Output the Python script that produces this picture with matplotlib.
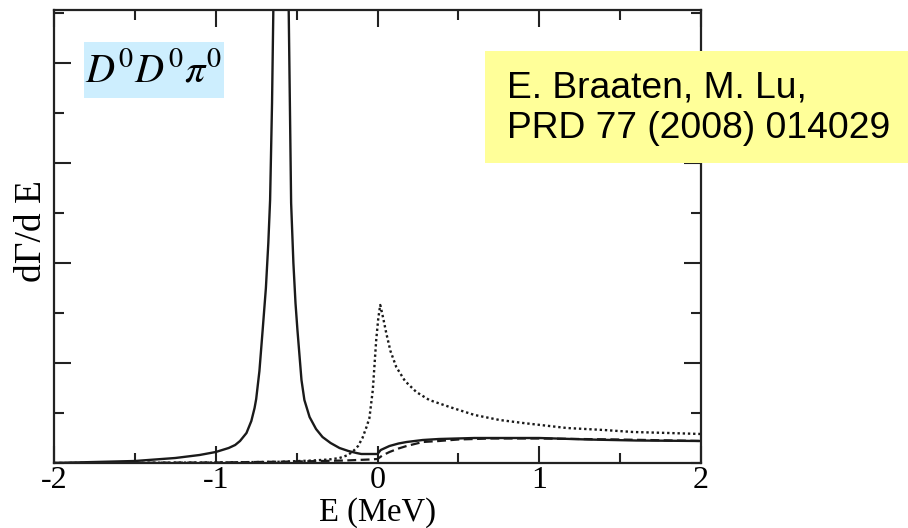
import matplotlib
matplotlib.use("Agg")
import matplotlib.pyplot as plt
from matplotlib.patches import Rectangle
from matplotlib.ticker import MultipleLocator

plt.rcParams['font.family'] = ['Liberation Serif', 'DejaVu Serif']
plt.rcParams['mathtext.fontset'] = 'stix'
plt.rcParams['axes.unicode_minus'] = False

# ---- data ----
solid_x = [-2.0, -1.75, -1.5, -1.25, -1.1, -1.0, -0.92, -0.88, -0.85, -0.81, -0.78, -0.76,
           -0.75, -0.73, -0.71, -0.69, -0.675, -0.664, -0.652, -0.644, -0.625, -0.61,
           -0.597, -0.585, -0.57, -0.549, -0.534, -0.52, -0.507, -0.495, -0.47, -0.452,
           -0.42, -0.38, -0.34, -0.29, -0.235, -0.18, -0.13, -0.10, -0.05, 0.0, 0.02,
           0.074, 0.13, 0.18, 0.28, 0.38, 0.6, 1.0, 1.3, 1.6, 2.0]
solid_y = [0.0, 0.01, 0.02, 0.05, 0.08, 0.11, 0.15, 0.18, 0.22, 0.30, 0.42, 0.55,
           0.64, 0.92, 1.33, 1.75, 2.2, 2.63, 3.6, 4.53, 7.0, 9.5,
           11.0, 9.5, 7.0, 4.53, 2.6, 2.0, 1.6, 1.33, 0.83, 0.63,
           0.46, 0.34, 0.26, 0.20, 0.15, 0.12, 0.10, 0.09, 0.09, 0.09, 0.13,
           0.17, 0.195, 0.21, 0.23, 0.24, 0.25, 0.25, 0.235, 0.225, 0.22]

dotted_x = [-2.0, -1.5, -1.0, -0.6, -0.4, -0.3, -0.235, -0.19, -0.155, -0.12, -0.093,
            -0.068, -0.05, -0.029, -0.008, 0.005, 0.017, 0.035, 0.054, 0.08, 0.116,
            0.17, 0.24, 0.32, 0.446, 0.6, 0.755, 0.9, 1.17, 1.4, 1.58, 1.8, 2.0]
dotted_y = [0.0, 0.002, 0.005, 0.012, 0.025, 0.035, 0.05, 0.075, 0.11, 0.17, 0.25,
            0.36, 0.45, 0.73, 1.23, 1.45, 1.58, 1.45, 1.30, 1.12, 0.96,
            0.82, 0.71, 0.63, 0.56, 0.48, 0.43, 0.40, 0.35, 0.33, 0.31, 0.30, 0.29]

dashed_x = [-2.0, -1.0, -0.5, -0.2, -0.05, 0.0, 0.03, 0.074, 0.13, 0.18, 0.28, 0.38,
            0.5, 0.7, 1.0, 1.5, 2.0]
dashed_y = [0.0, 0.005, 0.015, 0.025, 0.035, 0.04, 0.075, 0.11, 0.145, 0.17, 0.21, 0.22,
            0.235, 0.245, 0.245, 0.235, 0.22]

x_ticks = [-2, -1, 0, 1, 2]
x_ticklabels = ['-2', '-1', '0', '1', '2']
x_label = 'E (MeV)'
y_label = 'dΓ/d E'
channel_label = r'$D^0D^0\pi^0$'
ref_text = 'E. Braaten, M. Lu,\nPRD 77 (2008) 014029'

# ---- figure ----
W, H = 908, 528
fig = plt.figure(figsize=(W / 100, H / 100), dpi=100)
ax = fig.add_axes([54 / W, 1 - 463 / H, (701 - 54) / W, (463 - 10) / H])

lc = '#1a1a1a'
ax.plot(solid_x, solid_y, color=lc, lw=1.7, ls='-')
ax.plot(dotted_x, dotted_y, color=lc, lw=1.7, ls=(0, (1, 1.2)))
ax.plot(dashed_x, dashed_y, color=lc, lw=1.6, ls=(0, (4, 2)))

ax.set_xlim(-2, 2)
ax.set_ylim(0, 4.53)
ax.set_xticks(x_ticks)
ax.set_xticklabels(x_ticklabels)
ax.xaxis.set_minor_locator(MultipleLocator(0.5))
ax.set_yticks([1, 2, 3, 4])
ax.yaxis.set_minor_locator(MultipleLocator(0.5))
ax.set_yticklabels([])
ax.tick_params(which='both', direction='in', top=True, right=True, width=1.5, color='#222222')
ax.tick_params(which='major', length=12, labelsize=23, pad=2)
ax.tick_params(which='minor', length=7)
for s in ax.spines.values():
    s.set_linewidth(1.6)
    s.set_color('#222222')

ax.set_xlabel(x_label, fontsize=23.5, va='top')
ax.xaxis.set_label_coords(0.5, -(497 - 463) / 453)
ax.set_ylabel(y_label, fontsize=27)
ax.yaxis.set_label_coords(-0.008, 0.512)

# channel label with light blue background
fig.patches.append(Rectangle((84 / W, 1 - 98 / H), (224 - 84) / W, (98 - 42) / H,
                             transform=fig.transFigure, facecolor='#cdeefe',
                             edgecolor='none', zorder=5))
fig.text(154 / W, 1 - 72 / H, channel_label, fontsize=29, ha='center', va='center',
         zorder=6)

# reference box
fig.patches.append(Rectangle((485 / W, 1 - 163 / H), (908 - 485) / W, (163 - 51) / H,
                             transform=fig.transFigure, facecolor='#ffff99',
                             edgecolor='none', zorder=5))
fig.text(507 / W, 1 - 108 / H, ref_text, fontsize=26.8, ha='left', va='center',
         family=['Liberation Sans', 'DejaVu Sans'], linespacing=1.22, zorder=6)

fig.savefig('out.png', dpi=100)
